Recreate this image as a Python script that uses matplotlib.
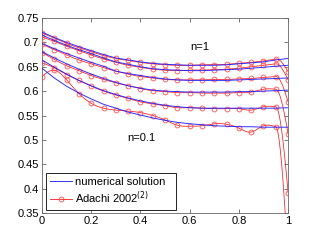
import numpy as np
import matplotlib
matplotlib.use("Agg")
import matplotlib.pyplot as plt

plt.rcParams["font.family"] = ["Liberation Sans", "DejaVu Sans"]

X = [0.0, 0.05, 0.1, 0.15, 0.2, 0.25, 0.3, 0.35, 0.4, 0.45, 0.5,
     0.55, 0.6, 0.65, 0.7, 0.75, 0.8, 0.85, 0.9, 0.95, 1.0]

# numerical solution, top curve (n=1) down to bottom (n=0.1)
NUM_A = [0.721, 0.710, 0.700, 0.691, 0.683, 0.675, 0.668, 0.664, 0.660, 0.657, 0.655,
         0.654, 0.653, 0.653, 0.653, 0.654, 0.656, 0.658, 0.660, 0.664, 0.667]
NUM_B = [0.715, 0.704, 0.694, 0.685, 0.677, 0.668, 0.660, 0.655, 0.650, 0.646, 0.644,
         0.643, 0.642, 0.642, 0.643, 0.644, 0.645, 0.647, 0.649, 0.651, 0.653]
NUM_C = [0.698, 0.687, 0.677, 0.668, 0.659, 0.651, 0.641, 0.636, 0.632, 0.628, 0.625,
         0.623, 0.622, 0.622, 0.622, 0.622, 0.623, 0.624, 0.625, 0.626, 0.627]
NUM_D = [0.681, 0.668, 0.656, 0.645, 0.635, 0.626, 0.618, 0.611, 0.606, 0.602, 0.600,
         0.599, 0.598, 0.598, 0.598, 0.598, 0.599, 0.599, 0.600, 0.601, 0.602]
NUM_E = [0.664, 0.649, 0.635, 0.622, 0.611, 0.601, 0.593, 0.586, 0.580, 0.575, 0.571,
         0.568, 0.566, 0.565, 0.565, 0.565, 0.565, 0.565, 0.565, 0.565, 0.566]
NUM_F = [0.647, 0.627, 0.610, 0.596, 0.584, 0.573, 0.565, 0.557, 0.551, 0.545, 0.540,
         0.536, 0.533, 0.531, 0.529, 0.528, 0.527, 0.527, 0.526, 0.526, 0.526]

# Adachi 2002 markers
ADA_A = [0.719, 0.709, 0.698, 0.689, 0.681, 0.673, 0.667, 0.663, 0.659, 0.656, 0.654,
         0.653, 0.653, 0.654, 0.654, 0.655, 0.657, 0.659, 0.662, 0.666, 0.640]
ADA_B = [0.711, 0.702, 0.692, 0.683, 0.674, 0.666, 0.659, 0.653, 0.649, 0.645, 0.643,
         0.642, 0.643, 0.643, 0.644, 0.645, 0.647, 0.650, 0.653, 0.656, 0.623]
ADA_C = [0.696, 0.685, 0.674, 0.664, 0.656, 0.648, 0.641, 0.635, 0.630, 0.627, 0.624,
         0.623, 0.623, 0.623, 0.624, 0.624, 0.625, 0.626, 0.628, 0.630, 0.578]
ADA_D = [0.679, 0.665, 0.652, 0.642, 0.632, 0.624, 0.617, 0.611, 0.605, 0.601, 0.599,
         0.597, 0.597, 0.596, 0.596, 0.596, 0.597, 0.598, 0.604, 0.604, 0.512]
ADA_E = [0.658, 0.648, 0.634, 0.622, 0.610, 0.600, 0.592, 0.585, 0.578, 0.574, 0.570,
         0.566, 0.566, 0.565, 0.564, 0.564, 0.564, 0.561, 0.568, 0.568, 0.392]
ADA_F = [0.630, 0.643, 0.623, 0.595, 0.575, 0.565, 0.561, 0.559, 0.556, 0.550, 0.541,
         0.530, 0.528, 0.529, 0.533, 0.532, 0.524, 0.516, 0.529, 0.527, 0.250]

NUMERICAL = [NUM_A, NUM_B, NUM_C, NUM_D, NUM_E, NUM_F]
ADACHI = [ADA_A, ADA_B, ADA_C, ADA_D, ADA_E, ADA_F]

BLUE = "#1a1aff"
RED = "#ff1a1a"
RED_MK = "#ff5050"


def natural_spline(x, y):
    """Coefficients of the natural cubic spline through (x, y)."""
    n = len(x)
    h = np.diff(x)
    A = np.zeros((n, n))
    r = np.zeros(n)
    A[0, 0] = A[-1, -1] = 1.0
    for i in range(1, n - 1):
        A[i, i - 1] = h[i - 1]
        A[i, i] = 2 * (h[i - 1] + h[i])
        A[i, i + 1] = h[i]
        r[i] = 3 * ((y[i + 1] - y[i]) / h[i] - (y[i] - y[i - 1]) / h[i - 1])
    c = np.linalg.solve(A, r)
    b = (y[1:] - y[:-1]) / h - h * (2 * c[:-1] + c[1:]) / 3
    d = (c[1:] - c[:-1]) / (3 * h)
    return b, c, d


def smooth_curve(x, y, npts=800):
    """Spline through all but the last marker, then a Hermite dive to the last."""
    x = np.asarray(x, float)
    y = np.asarray(y, float)
    xs, ys = x[:-1], y[:-1]
    b, c, d = natural_spline(xs, ys)
    xf = np.linspace(xs[0], xs[-1], npts)
    k = np.clip(np.searchsorted(xs, xf) - 1, 0, len(xs) - 2)
    t = xf - xs[k]
    yf = ys[k] + b[k] * t + c[k] * t ** 2 + d[k] * t ** 3
    # slope at the end of the spline part
    hl = xs[-1] - xs[-2]
    m0 = b[-1] + 2 * c[-2] * hl + 3 * d[-1] * hl ** 2
    h = x[-1] - xs[-1]
    m1 = 1.6 * (y[-1] - ys[-1]) / h
    tt = np.linspace(0, 1, 80)
    h00 = 2 * tt ** 3 - 3 * tt ** 2 + 1
    h10 = tt ** 3 - 2 * tt ** 2 + tt
    h01 = -2 * tt ** 3 + 3 * tt ** 2
    h11 = tt ** 3 - tt ** 2
    ye = h00 * ys[-1] + h10 * h * m0 + h01 * y[-1] + h11 * h * m1
    return np.concatenate([xf, xs[-1] + tt * h]), np.concatenate([yf, ye])


fig = plt.figure(figsize=(3.18, 2.40), dpi=100)
ax = fig.add_axes([0.132, 0.1125, 0.774, 0.8125])

for i, (num, ada) in enumerate(zip(NUMERICAL, ADACHI)):
    ax.plot(X, num, color=BLUE, lw=0.7, alpha=0.9, zorder=4,
            label="numerical solution" if i == 0 else None)
    cx, cy = smooth_curve(X, ada)
    ax.plot(cx, cy, color=RED, lw=0.55, zorder=3)
    ax.plot(X, ada, ls="none", marker="o", ms=3.5, mfc="none", mec=RED_MK,
            mew=0.6, zorder=3)

# legend proxy for the marker+line style
ax.plot([], [], color=RED, lw=0.6, marker="o", ms=3.5, mfc="none",
        mec=RED_MK, mew=0.6, label="Adachi 2002$^{(2)}$")

ax.text(0.64, 0.6895, "n=1", fontsize=8, ha="center", va="center")
ax.text(0.402, 0.503, "n=0.1", fontsize=8, ha="center", va="center")

ax.set_xlim(0, 1)
ax.set_ylim(0.35, 0.75)
ax.set_xticks([0, 0.2, 0.4, 0.6, 0.8, 1])
ax.set_xticklabels(["0", "0.2", "0.4", "0.6", "0.8", "1"])
ax.set_yticks([0.35, 0.4, 0.45, 0.5, 0.55, 0.6, 0.65, 0.7, 0.75])
ax.set_yticklabels(["0.35", "0.4", "0.45", "0.5", "0.55", "0.6", "0.65", "0.7", "0.75"])
ax.tick_params(direction="in", length=3, width=0.5, labelsize=8, pad=2,
               top=True, right=True, colors="#444444", labelcolor="k")
for s in ax.spines.values():
    s.set_linewidth(0.6)
    s.set_color("#666666")

leg = ax.legend(loc="lower left", bbox_to_anchor=(0.016, 0.015, 0.528, 0.1),
                mode="expand", borderaxespad=0,
                fontsize=8, fancybox=False, edgecolor="k", framealpha=1,
                handlelength=2.0, handletextpad=0.3, borderpad=0.35,
                labelspacing=0.25, numpoints=1)
leg.get_frame().set_linewidth(0.6)

fig.savefig("out.png", dpi=100)
